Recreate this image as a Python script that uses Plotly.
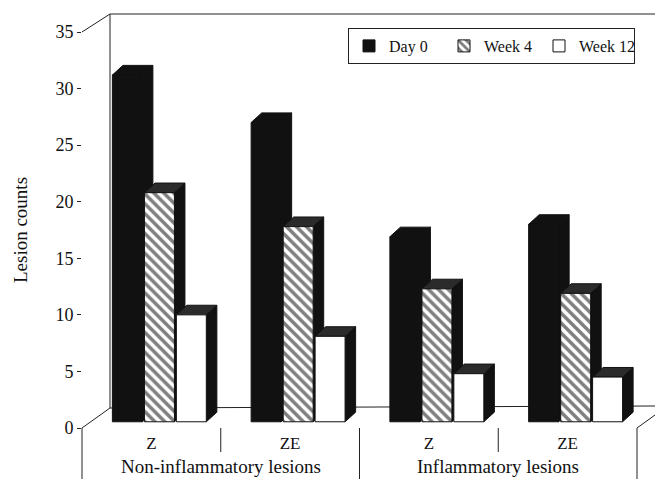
import plotly.graph_objects as go

# ---------------- data ----------------
groups = ["Non-inflammatory lesions", "Inflammatory lesions"]
categories = ["Z", "ZE", "Z", "ZE"]
series_names = ["Day 0", "Week 4", "Week 12"]
day0 = [31.2, 27.0, 16.9, 18.0]
week4 = [20.8, 17.8, 12.3, 11.9]
week12 = [10.0, 8.1, 4.8, 4.5]
y_ticks = [0, 5, 10, 15, 20, 25, 30, 35]

# ---------------- geometry / style ----------------
FONT = "Liberation Serif"
W, H = 655, 479
ML, MR, MT, MB = 82, 18, 32, 51
PW, PH = W - ML - MR, H - MT - MB

BAR_W = 0.216
OFFSETS = [-0.173, 0.058, 0.288]
DX, DY = 0.076, 0.85       # 3-D depth offsets (x units, y units)
BASE = 0.55

styles = [
    dict(color="#111111", pattern=None, top="#111111"),
    dict(color="white", pattern=dict(shape="\\", fgcolor="#000000", bgcolor="white", size=7, solidity=0.5), top="#2b2b2b"),
    dict(color="white", pattern=None, top="#2b2b2b"),
]
values = [day0, week4, week12]

fig = go.Figure()
xs_cat = list(range(len(categories)))

for s, (name, vals, st) in enumerate(zip(series_names, values, styles)):
    xc = [i + OFFSETS[s] for i in xs_cat]
    sx, sy, tx, ty = [], [], [], []
    for x, v in zip(xc, vals):
        xl, xr = x - BAR_W / 2, x + BAR_W / 2
        sx += [xr, xr + DX, xr + DX, xr, xr, None]
        sy += [BASE, BASE + DY, v + DY, v, BASE, None]
        tx += [xl, xl + DX, xr + DX, xr, xl, None]
        ty += [v, v + DY, v + DY, v, v, None]
    fig.add_trace(go.Scatter(x=sx, y=sy, mode="lines", fill="toself", fillcolor="#111111",
                             line=dict(color="#111111", width=1), showlegend=False,
                             hoverinfo="skip", zorder=3 * s))
    fig.add_trace(go.Scatter(x=tx, y=ty, mode="lines", fill="toself", fillcolor=st["top"],
                             line=dict(color="#111111", width=1), showlegend=False,
                             hoverinfo="skip", zorder=3 * s + 1))
    marker = dict(color=st["color"], line=dict(color="#111111", width=1))
    if st["pattern"]:
        marker["pattern"] = st["pattern"]
    fig.add_trace(go.Bar(x=xc, y=[v - BASE for v in vals], base=BASE, width=BAR_W,
                         name=name, marker=marker, zorder=3 * s + 2))

# ---------------- frame (3-D walls / floor / label box) ----------------
def px(xp):
    return (xp - ML) / PW

def py(yp):
    return (H - MB - yp) / PH

line = dict(color="#222222", width=1)
shapes = []
def seg(x0, y0, x1, y1):
    shapes.append(dict(type="line", xref="paper", yref="paper", layer="below",
                       x0=px(x0), y0=py(y0), x1=px(x1), y1=py(y1), line=line))

seg(82, 32, 110, 14)      # wall top-left diagonal
seg(110, 14, 655, 14)     # wall top edge
seg(110, 14, 110, 408)    # wall left back edge
seg(82, 428, 110, 408)    # floor left diagonal
seg(110, 408, 655, 406)   # floor back edge
seg(637, 428, 655, 415)   # floor right diagonal
seg(82, 428, 82, 479)     # label box left
seg(637, 428, 637, 479)   # label box right
for xb, long in [(0.5, False), (1.5, True), (2.5, False)]:
    shapes.append(dict(type="line", xref="x", yref="paper", x0=xb, x1=xb,
                       y0=0, y1=py(479) if long else py(452), line=line))

annotations = [
    dict(text=groups[0], x=0.5, y=py(466), xref="x", yref="paper", showarrow=False,
         font=dict(family=FONT, size=19, color="#111111"), yanchor="middle"),
    dict(text=groups[1], x=2.5, y=py(466), xref="x", yref="paper", showarrow=False,
         font=dict(family=FONT, size=19, color="#111111"), yanchor="middle"),
]

fig.update_layout(
    width=W, height=H,
    margin=dict(l=ML, r=MR, t=MT, b=MB, autoexpand=False),
    paper_bgcolor="white", plot_bgcolor="rgba(0,0,0,0)",
    barmode="overlay",
    font=dict(family=FONT, color="#111111"),
    shapes=shapes, annotations=annotations,
    legend=dict(orientation="h", x=px(348), y=py(28), xanchor="left", yanchor="top",
                bordercolor="#222222", borderwidth=1, bgcolor="white",
                font=dict(family=FONT, size=16, color="#111111"),
                itemwidth=30, entrywidth=50, traceorder="normal"),
    xaxis=dict(range=[-0.5, 3.5], tickvals=xs_cat, ticktext=categories,
               showline=True, linecolor="#222222", linewidth=1, showgrid=False,
               zeroline=False, ticks="", tickfont=dict(family=FONT, size=17),
               automargin=False, fixedrange=True),
    yaxis=dict(range=[0, 35], tickvals=y_ticks, showline=True, linecolor="#222222",
               linewidth=1, showgrid=False, zeroline=False, ticks="outside", ticklen=4,
               tickcolor="#222222", tickfont=dict(family=FONT, size=18),
               title=dict(text="Lesion counts", font=dict(family=FONT, size=19), standoff=22),
               automargin=False, fixedrange=True),
)

fig.write_html("out.html", config={"displayModeBar": False},
               post_script="document.body.style.margin='0';document.body.style.padding='0';")
